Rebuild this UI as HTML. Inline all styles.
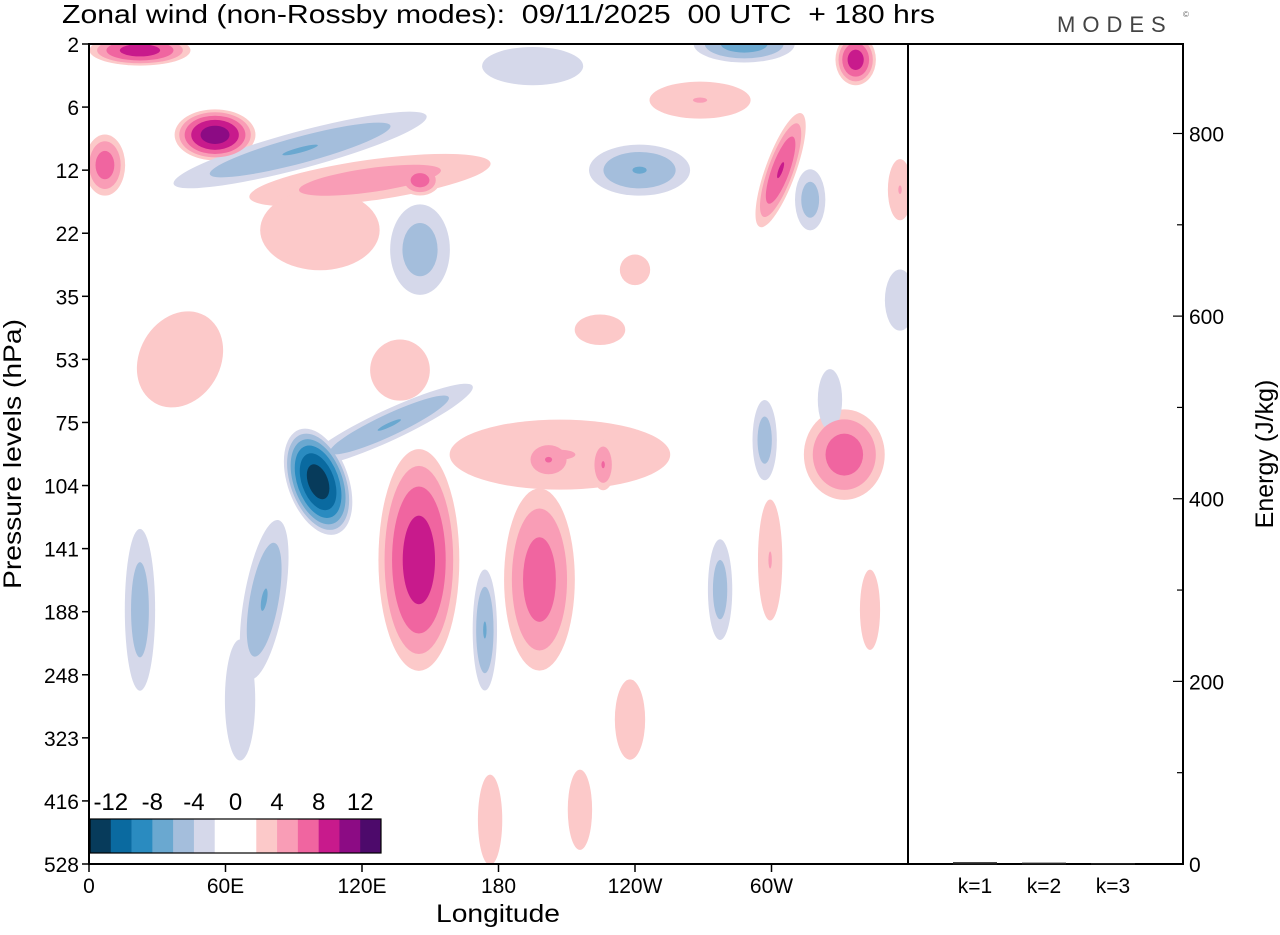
<!DOCTYPE html>
<html><head><meta charset="utf-8"><style>
body{margin:0;background:#fff;}
svg text{font-family:"Liberation Sans",sans-serif;}
</style></head><body>
<svg id="chart" width="1280" height="930" viewBox="0 0 1280 930" xmlns="http://www.w3.org/2000/svg">
<text x="62" y="23" font-size="26" xml:space="preserve" style="white-space:pre" textLength="873" lengthAdjust="spacingAndGlyphs">Zonal wind (non-Rossby modes):  09/11/2025  00 UTC  + 180 hrs</text>
<text x="1057" y="32" font-size="22" fill="#444" letter-spacing="7">MODES</text>
<text x="1183" y="17" font-size="8" fill="#666">©</text>
<defs><clipPath id="plotclip"><rect x="89" y="44" width="819" height="820"/></clipPath></defs>
<g id="contours" clip-path="url(#plotclip)"></g>
<g id="axes"></g>
</svg>
<script>
// Blob features of the field: lon (deg), level index (0=2hPa), half-width (deg), half-height (levels), tilt (deg), peak (m/s)
const blobLon   = [100.7,132,77,145,198,174,22.4,207,202,226,332,297,22.4,55.4,7,92.8,123.5,145.5,101.5,145.5,242,288,337,304,268.6,317,195,224.6,240,136.7,40,237.8,215.8,176.3,299.4,277.4,356.5,356.5,343.3,66.4,325.7];
const blobLev   = [6.94,6.04,8.81,8.18,8.49,9.29,8.97,6.51,6.59,6.67,6.51,6.28,0.1,1.44,1.92,1.68,2.16,2.16,2.95,3.26,2.0,0,0.25,2.0,0.89,2.47,0.35,4.53,3.58,5.17,5.0,10.71,12.14,12.3,8.18,8.65,4.06,2.31,8.97,10.4,5.64];
const blobW     = [13.2,40,8.8,17.6,15.4,5.3,6.6,48,11,5.3,17.6,5.3,22,17.6,8.8,57,53,8.8,26,13,22,22,8.8,6.6,22,6.6,22,11,6.6,13,17.6,6.6,5.3,5.3,5.3,5.3,6.6,5.3,4.4,6.6,5.3];
const blobH     = [0.87,0.24,1.27,1.74,1.43,0.95,1.27,0.55,0.32,0.4,0.71,0.63,0.24,0.4,0.48,0.29,0.32,0.24,0.63,0.71,0.4,0.29,0.4,0.95,0.29,0.48,0.3,0.24,0.24,0.48,0.79,0.63,0.63,0.71,0.95,0.79,0.48,0.48,0.63,0.95,0.48];
const blobTilt  = [-20,-25,10,0,0,0,0,0,0,0,0,0,0,0,0,-15,-8,0,0,0,0,0,0,20,0,0,0,0,0,0,30,0,0,0,0,0,0,0,0,0,0];
const blobPeak  = [-13,-6,-6,9,7,-6,-5,4,6,6,7,-5,9,11,7,-6,5,7,3,-5,-6,-7,9,8,4,-5,-3,3,3,3,3,3,3,3,4,-5,-3,4,3,-3,-3];
const levelLabels = ["2","6","12","22","35","53","75","104","141","188","248","323","416","528"];
const lonTicks = [0,60,120,180,240,300];
const lonLabels = ["0","60E","120E","180","120W","60W"];
const cbLabels = [-12,-8,-4,0,4,8,12];
const energyTicks = [0,200,400,600,800];
const kLabels = ["k=1","k=2","k=3"];
const kEnergy = [2,1.5,1];

const X0=89,X1=908,Y0=44,Y1=864;
const xLon=l=>X0+(l/360)*(X1-X0);
const yLev=i=>Y0+i*(Y1-Y0)/13;
const EY0=864,EY1=44,EMAX=898;
const yE=e=>EY0-(e/EMAX)*(EY0-EY1);
const posCol={2:"#fcc9c9",4:"#f99db6",6:"#f065a0",8:"#c81a8c",10:"#8c0b84",12:"#4d0a6b"};
const negCol={2:"#d5d8ea",4:"#a4bedc",6:"#6aa8d0",8:"#2a8bc0",10:"#0a6aa0",12:"#073b5b"};
const NS="http://www.w3.org/2000/svg";
function mk(t,a,p){const e=document.createElementNS(NS,t);for(const k in a)e.setAttribute(k,a[k]);p.appendChild(e);return e;}
const cg=document.getElementById('contours');
const ax=document.getElementById('axes');
for(let c=2;c<=12;c+=2){
  for(let i=0;i<blobPeak.length;i++){
    const A=Math.abs(blobPeak[i]); if(A<c) continue;
    const s=A===2?1:Math.sqrt((A-c)/(A-2)+0.02);
    const cx=xLon(blobLon[i]),cy=yLev(blobLev[i]);
    const rx=blobW[i]*(X1-X0)/360*s, ry=blobH[i]*(Y1-Y0)/13*s;
    const e=mk('ellipse',{cx:cx,cy:cy,rx:rx,ry:ry,transform:`rotate(${blobTilt[i]} ${cx} ${cy})`,fill:(blobPeak[i]>0?posCol:negCol)[c]},cg);
    
    
  }
}
let f=mk('rect',{x:X0,y:Y0,width:X1-X0,height:Y1-Y0,fill:'none',stroke:'#000','stroke-width':2},ax);


f=mk('rect',{x:X1,y:Y0,width:1183-X1,height:Y1-Y0,fill:'none',stroke:'#000','stroke-width':2},ax);


levelLabels.forEach((lab,i)=>{
  const y=yLev(i);
  mk('line',{x1:X0-7,x2:X0,y1:y,y2:y,stroke:'#000','stroke-width':1.5},ax);
  const t=mk('text',{x:X0-10,y:y+8,'font-size':21,'text-anchor':'end'},ax);t.textContent=lab;
  
  
});
let t=mk('text',{x:21,y:454,'font-size':25,'text-anchor':'middle',transform:'rotate(-90 21 454)',textLength:270,lengthAdjust:'spacingAndGlyphs'},ax);t.textContent='Pressure levels (hPa)';


lonTicks.forEach((l,i)=>{
  const x=xLon(l);
  mk('line',{x1:x,x2:x,y1:Y1,y2:Y1+8,stroke:'#000','stroke-width':1.5},ax);
  const tt=mk('text',{x:x,y:Y1+29,'font-size':21,'text-anchor':'middle'},ax);tt.textContent=lonLabels[i];
  
  
});
t=mk('text',{x:498,y:922,'font-size':25,'text-anchor':'middle',textLength:124,lengthAdjust:'spacingAndGlyphs'},ax);t.textContent='Longitude';


for(let e=0;e<=EMAX;e+=100){
  const y=yE(e);const major=e%200===0;
  mk('line',{x1:1183,x2:1183-(major?10:6),y1:y,y2:y,stroke:'#000','stroke-width':1.2},ax);
}
energyTicks.forEach(e=>{
  const tt=mk('text',{x:1189,y:yE(e)+8,'font-size':21},ax);tt.textContent=e;
  
  
});
t=mk('text',{x:1273,y:454,'font-size':25,'text-anchor':'middle',transform:'rotate(-90 1273 454)'},ax);t.textContent='Energy (J/kg)';


kLabels.forEach((k,i)=>{
  const x=975+i*69;
  const b=mk('rect',{x:x-22,y:yE(kEnergy[i]),width:44,height:EY0-yE(kEnergy[i])+0.5,fill:'#222'},ax);
  
  
  const tt=mk('text',{x:x,y:Y1+29,'font-size':21,'text-anchor':'middle'},ax);tt.textContent=k;
  
  
});
const cbCols=["#073b5b","#0a6aa0","#2a8bc0","#6aa8d0","#a4bedc","#d5d8ea","#fff","#fff","#fcc9c9","#f99db6","#f065a0","#c81a8c","#8c0b84","#4d0a6b"];
const cbX=90,cbW=291,cbY=819,cbH=34,bw=cbW/14;
mk('rect',{x:X0+1,y:780,width:300,height:83,fill:'#fff'},ax);
cbCols.forEach((c,i)=>{
  const r=mk('rect',{x:cbX+i*bw,y:cbY,width:bw+0.3,height:cbH,fill:c},ax);
  
  
});
mk('rect',{x:cbX,y:cbY,width:cbW,height:cbH,fill:'none',stroke:'#000','stroke-width':1.2},ax);
cbLabels.forEach(v=>{
  const x=cbX+(v+14)/2*bw;
  const tt=mk('text',{x:x,y:810,'font-size':24,'text-anchor':'middle'},ax);tt.textContent=v;
  
  
});
</script>
</body></html>
